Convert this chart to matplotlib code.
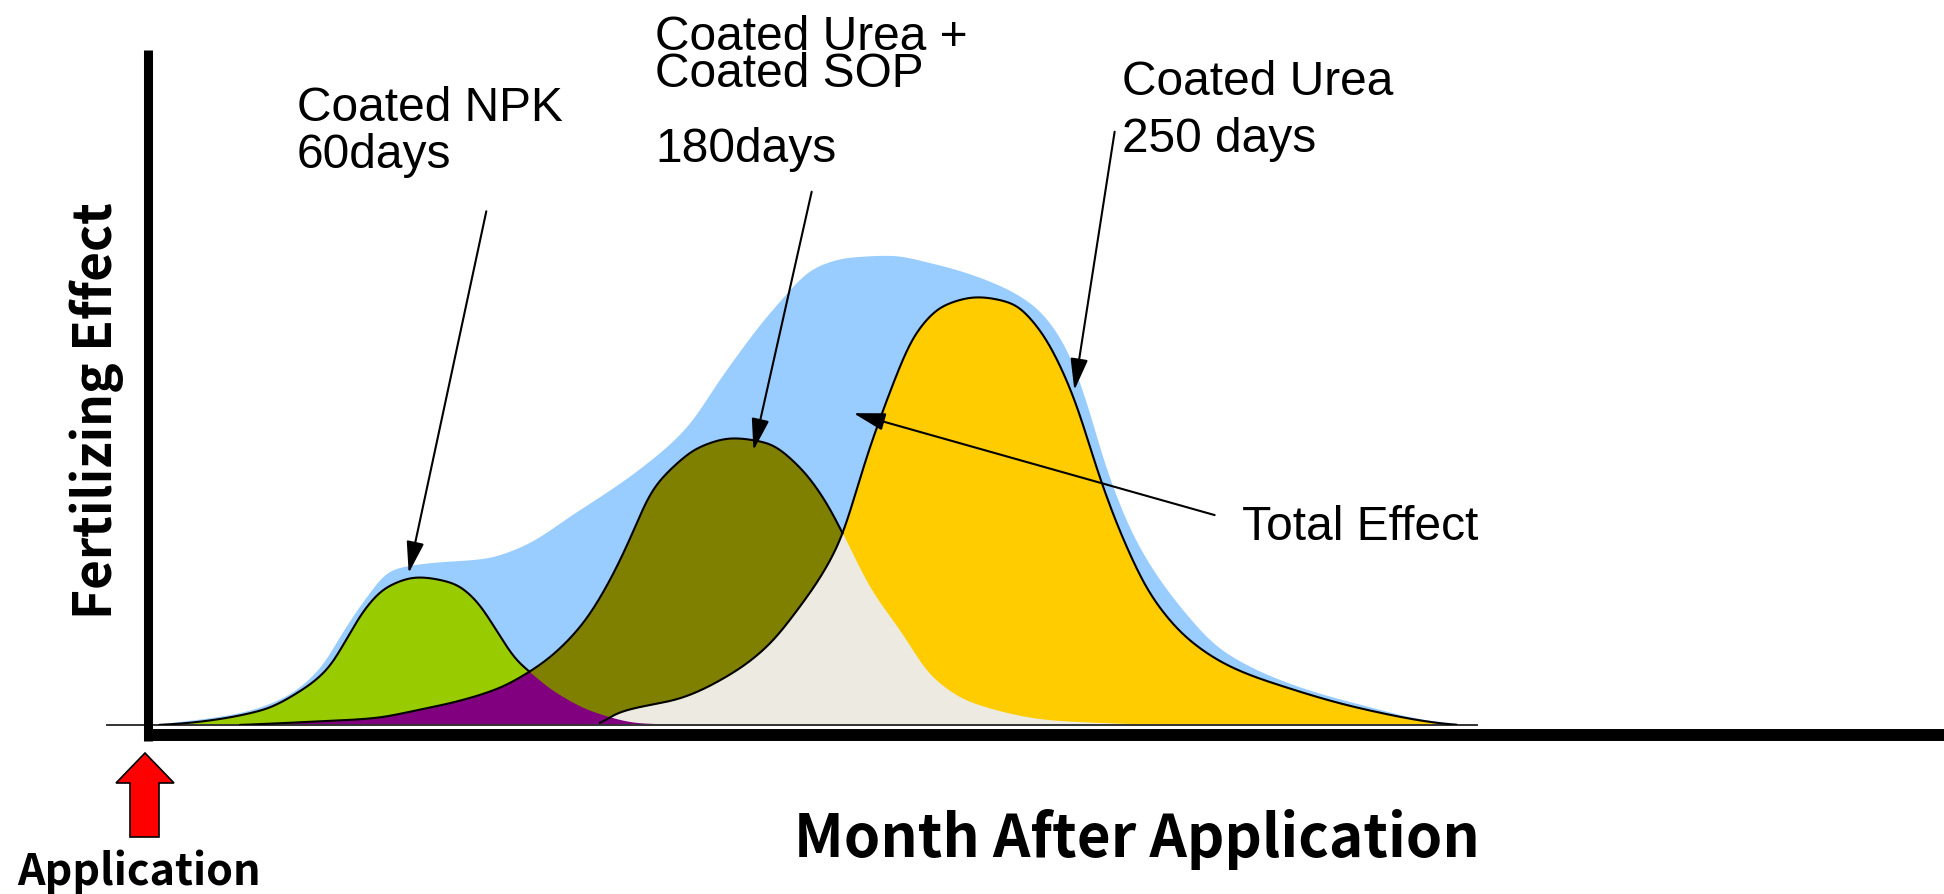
import numpy as np
import matplotlib.pyplot as plt
from matplotlib.patches import Polygon
from matplotlib.font_manager import FontProperties

# months after application vs relative fertilizing effect
npk_month = [0.07, 0.26, 0.76, 0.99, 1.21, 1.32, 1.44, 1.59, 1.80, 2.04, 2.19, 2.34, 2.46, 2.55, 2.70, 3.00, 3.30, 3.89]
npk_effect = [0, 0.3, 2.2, 4.7, 8.6, 12.6, 17.0, 20.4, 21.9, 21.0, 18.5, 13.6, 9.6, 7.9, 5.2, 1.8, 0.3, 0]

sop_month = [0.61, 1.01, 1.50, 1.80, 2.10, 2.35, 2.55, 2.69, 2.91, 3.09, 3.24, 3.36, 3.51, 3.69, 3.91,
             4.14, 4.36, 4.54, 4.65, 4.83, 5.03, 5.25, 5.52, 6.08, 6.91]
sop_effect = [0, 0.4, 1.0, 2.2, 3.7, 5.5, 7.9, 10.1, 15.1, 21.5, 28.4, 34.4, 38.2, 41.2, 42.5,
              41.8, 38.2, 32.9, 28.3, 20.4, 14.1, 7.1, 3.3, 0.7, 0]

urea_month = [3.02, 3.11, 3.58, 3.91, 4.14, 4.36, 4.54, 4.65, 4.74, 4.83, 4.92, 5.00, 5.13, 5.33, 5.55,
              5.78, 5.97, 6.11, 6.22, 6.36, 6.53, 6.72, 6.97, 7.25, 7.63, 8.11, 8.60, 8.76]
urea_effect = [0, 1.5, 4.1, 7.7, 11.6, 17.5, 23.4, 28.3, 34.8, 41.2, 46.7, 51.4, 57.8, 62.2, 63.4,
               62.5, 58.5, 53.0, 47.1, 37.3, 27.4, 19.0, 12.6, 8.6, 5.5, 2.5, 0.4, 0]

total_month = [0.01, 0.60, 0.90, 1.15, 1.29, 1.44, 1.62, 1.86, 2.25, 2.49, 2.85, 3.30, 3.60, 3.85, 4.19, 4.47,
               4.69, 4.96, 5.25, 5.66, 5.94, 6.14, 6.27, 6.41, 6.61, 6.91, 7.19, 7.64, 8.11, 8.58, 8.88]
total_effect = [0, 1.8, 4.1, 8.6, 13.6, 18.5, 23.0, 24.0, 24.7, 26.4, 31.4, 38.2, 44.1, 52.1, 61.9, 67.9,
                69.3, 69.6, 68.4, 65.5, 61.9, 56.0, 48.6, 38.2, 27.4, 17.5, 11.1, 6.2, 3.1, 0.7, 0]

label_npk = "Coated NPK\n60days"
label_sop = "Coated Urea +\nCoated SOP\n\n180days"
label_urea = "Coated Urea\n250 days"
label_total = "Total Effect"
# (start, tip) of the pointer arrows, in month / effect
pointers = [((2.26, 76.1), (1.74, 22.5)),
            ((4.44, 79.0), (4.05, 40.7)),
            ((6.47, 87.9), (6.20, 49.6)),
            ((7.14, 31.1), (4.72, 46.2))]

W, H = 1944, 894
BOLD_FONT = ['Noto Sans CJK JP', 'DejaVu Sans']
LABEL_FONT = ['Liberation Sans', 'DejaVu Sans']


def pchip(x, y, xs):
    # monotone cubic through the read points, only to draw smooth outlines
    x = np.asarray(x, float)
    y = np.asarray(y, float)
    h = np.diff(x)
    d = np.diff(y) / h
    m = np.zeros_like(y)
    m[0], m[-1] = d[0], d[-1]
    for k in range(1, len(x) - 1):
        if d[k - 1] * d[k] > 0:
            w1 = 2 * h[k] + h[k - 1]
            w2 = h[k] + 2 * h[k - 1]
            m[k] = (w1 + w2) / (w1 / d[k - 1] + w2 / d[k])
    i = np.clip(np.searchsorted(x, xs) - 1, 0, len(x) - 2)
    t = (xs - x[i]) / h[i]
    h00 = 2 * t**3 - 3 * t**2 + 1
    h10 = t**3 - 2 * t**2 + t
    h01 = -2 * t**3 + 3 * t**2
    h11 = t**3 - t**2
    return h00 * y[i] + h10 * h[i] * m[i] + h01 * y[i + 1] + h11 * h[i] * m[i + 1]


xs = np.linspace(-0.5, 9.5, 4001)
step = xs[1] - xs[0]
sig = 0.045
kx = np.arange(-4 * sig, 4 * sig + step / 2, step)
kern = np.exp(-0.5 * (kx / sig) ** 2)
kern /= kern.sum()


def curve(mx, ey):
    out = np.zeros_like(xs)
    sel = (xs >= mx[0]) & (xs <= mx[-1])
    out[sel] = np.maximum(pchip(mx, ey, xs[sel]), 0)
    return np.convolve(out, kern, mode='same')


def px(x, y):
    return x / W, 1 - y / H


fig = plt.figure(figsize=(W / 100, H / 100), dpi=100)
ax = fig.add_axes([149 / W, (H - 725) / H, 1791 / W, 675 / H])
ax.set_xlim(0, 12)
ax.set_ylim(0, 100)
ax.axis('off')

y_npk = curve(npk_month, npk_effect)
y_sop = curve(sop_month, sop_effect)
y_urea = curve(urea_month, urea_effect)
y_tot = curve(total_month, total_effect)

ax.fill_between(xs, 0, y_tot, color='#99CCFF', lw=0)
ax.fill_between(xs, 0, y_npk, color='#99CC00', lw=0)
ax.fill_between(xs, 0, y_sop, color='#808000', lw=0)
ax.fill_between(xs, 0, y_urea, color='#FFCC00', lw=0)
ax.fill_between(xs, 0, np.minimum(y_sop, y_urea), color='#ECEAE1', lw=0)
ax.fill_between(xs, 0, np.minimum(y_npk, y_sop), color='#800080', lw=0)

# baseline and thick axes
ax.plot([-0.28, 8.9], [0, 0], color='#333333', lw=1.4, clip_on=False)
ax.plot([-0.01, -0.01], [-2.4, 100], color='k', lw=6.5, clip_on=False, solid_capstyle='butt')
ax.plot([-0.02, 12.1], [-1.5, -1.5], color='k', lw=8.6, clip_on=False, solid_capstyle='butt')


def outline(y, y_next, mx):
    sel = (xs >= mx[0]) & (xs <= mx[-1])
    if y_next is not None:
        peak = np.argmax(y)
        after = np.nonzero((np.arange(len(xs)) > peak) & (y_next >= y))[0]
        sel &= xs <= xs[after[0]]
    ax.plot(xs[sel], y[sel], color='k', lw=1.5, solid_capstyle='round')


outline(y_npk, y_sop, npk_month)
outline(y_sop, y_urea, sop_month)
outline(y_urea, None, urea_month)

for start, tip in pointers:
    ax.annotate('', xy=tip, xytext=start,
                arrowprops=dict(arrowstyle='-|>,head_length=0.97,head_width=0.27',
                                mutation_scale=20, lw=1.5, color='k',
                                shrinkA=0, shrinkB=0))

renderer = fig.canvas.get_renderer()
label_fp = FontProperties(family=LABEL_FONT, size=34.5)
_, lp_h, lp_d = renderer.get_text_width_height_descent('lp', label_fp, ismath=False)


def label(x, y_last, s, gap=40):
    # y_last is the baseline of the last line, gap the baseline-to-baseline step
    fig.text(*px(x, y_last), s, fontproperties=label_fp, ha='left', va='baseline',
             linespacing=(gap - lp_d) / (lp_h - lp_d))


label(297, 168, label_npk, 47)
label(655, 162, label_sop, 37.5)
label(1122, 152, label_urea, 57)
label(1242, 540, label_total)

fig.text(*px(1137, 857), "Month After Application", family=BOLD_FONT, fontsize=42,
         fontweight='bold', ha='center', va='baseline')
fig.text(*px(97, 411), "Fertilizing Effect", family=BOLD_FONT, fontsize=37,
         fontweight='bold', rotation=90, ha='center', va='center')
fig.text(*px(139, 885), "Application", family=BOLD_FONT, fontsize=31,
         fontweight='bold', ha='center', va='baseline')

# red application arrow
arrow_px = [(145, 753), (174, 783), (159, 783), (159, 837), (130, 837), (130, 783), (116, 783)]
fig.patches.append(Polygon([px(x, y) for x, y in arrow_px], closed=True,
                           transform=fig.transFigure, facecolor='#FF0000',
                           edgecolor='k', lw=1.2))

fig.savefig('out.png', dpi=100)
